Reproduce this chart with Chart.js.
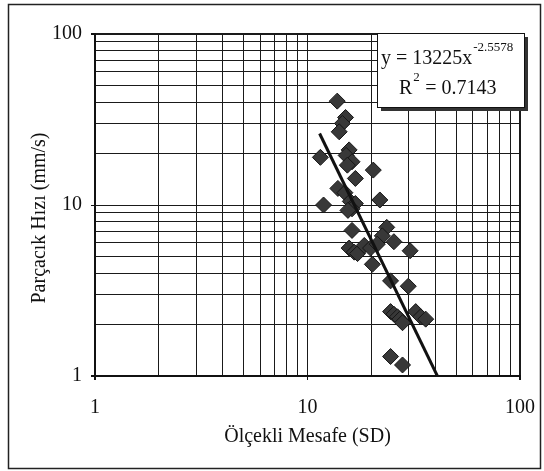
<!DOCTYPE html>
<html>
<head>
  <title>Parçacık Hızı - Ölçekli Mesafe</title>
  <style>
    body { margin: 0; background: #fff; }
    canvas { display: block; }
  </style>
  <script src="https://cdn.jsdelivr.net/npm/chart.js"></script>
</head>
<body>
  <canvas id="chart" width="544" height="471"></canvas>

  <script>
    // ölçülen değerler
    const mesafe = [13.8, 15.1, 14.6, 14.1, 11.5, 15.7, 15.2, 16.2, 15.4, 20.4,
                    16.8, 13.9, 15.0, 11.9, 15.9, 16.8, 16.2, 15.5, 21.9, 16.2,
                    23.6, 22.5, 25.5, 30.4, 15.7, 16.6, 17.2, 18.5, 19.8, 21.3,
                    20.2, 24.6, 29.8, 24.6, 25.5, 26.5, 27.2, 28.0, 32.3, 34.1,
                    36.0, 24.6, 28.0];
    const hiz = [40.5, 32.5, 30.0, 26.8, 19.0, 21.0, 19.5, 17.9, 17.1, 16.0,
                 14.3, 12.5, 11.8, 10.0, 10.5, 10.2, 9.5, 9.3, 10.7, 7.1,
                 7.4, 6.6, 6.1, 5.4, 5.6, 5.3, 5.2, 5.8, 5.6, 5.9,
                 4.5, 3.6, 3.35, 2.38, 2.3, 2.22, 2.15, 2.05, 2.38, 2.22,
                 2.15, 1.30, 1.16];

    // eğilim çizgisi: y = a * x^b
    const trendA = 13225;
    const trendB = -2.5578;
    const trendX = [11.4, 40.9];
    const r2 = 0.7143;

    const xTicks = [1, 2, 3, 4, 5, 6, 7, 8, 9, 10, 20, 30, 40, 50, 60, 70, 80, 90, 100];
    const yTicks = [1, 2, 3, 4, 5, 6, 7, 8, 9, 10, 20, 30, 40, 50, 60, 70, 80, 90, 100];
    const majorTicks = [1, 10, 100];

    const serif = "'Liberation Serif', 'Times New Roman', serif";

    const noktalar = mesafe.map((x, i) => ({ x: x, y: hiz[i] }));
    const trend = trendX.map(x => ({ x: x, y: trendA * Math.pow(x, trendB) }));

    function gridWidth(ctx) {
      const v = ctx.tick && ctx.tick.value;
      return (v === 1 || v === 100) ? 2 : 1;
    }
    function tickColor(ctx) {
      return majorTicks.includes(ctx.tick && ctx.tick.value) ? '#111' : 'rgba(0,0,0,0)';
    }
    function tickLabel(v) {
      return majorTicks.includes(v) ? String(v) : '';
    }

    // dış çerçeve, y ekseni başlığı ve denklem kutusu
    const ekstra = {
      id: 'ekstra',
      afterDraw(chart) {
        const ctx = chart.ctx;
        const area = chart.chartArea;
        ctx.save();
        ctx.strokeStyle = '#222';
        ctx.lineWidth = 1.5;
        ctx.strokeRect(8.5, 4.5, 532, 464);

        // y ekseni başlığı
        ctx.fillStyle = '#111';
        ctx.font = '20px ' + serif;
        ctx.textAlign = 'center';
        ctx.textBaseline = 'middle';
        ctx.translate(40, 218);
        ctx.rotate(-Math.PI / 2);
        ctx.fillText('Parçacık Hızı (mm/s)', 0, 0);
        ctx.restore();

        // denklem kutusu
        ctx.save();
        const bw = 147, bh = 74;
        const bx = Math.round(area.right) + 4 - bw, by = 33;
        ctx.fillStyle = '#333';
        ctx.fillRect(bx + 4, by + 4, bw, bh);
        ctx.fillStyle = '#fff';
        ctx.fillRect(bx, by, bw, bh);
        ctx.strokeStyle = '#111';
        ctx.lineWidth = 1;
        ctx.strokeRect(bx + 0.5, by + 0.5, bw, bh);

        ctx.fillStyle = '#111';
        ctx.textBaseline = 'alphabetic';
        ctx.textAlign = 'left';
        ctx.font = '20px ' + serif;
        const satir1 = 'y = ' + trendA + 'x';
        ctx.fillText(satir1, bx + 4, 64);
        const w1 = ctx.measureText(satir1).width;
        ctx.font = '13px ' + serif;
        ctx.fillText(String(trendB), bx + 4 + w1 + 1, 51);

        const rx = bx + 22;
        ctx.font = '20px ' + serif;
        ctx.fillText('R', rx, 94);
        const wR = ctx.measureText('R').width;
        ctx.font = '13px ' + serif;
        ctx.fillText('2', rx + wR + 1, 81);
        ctx.font = '20px ' + serif;
        ctx.fillText(' = ' + r2, rx + wR + 8, 94);
        ctx.restore();
      }
    };

    new Chart(document.getElementById('chart'), {
      type: 'scatter',
      data: {
        datasets: [
          {
            label: 'Ölçüm',
            data: noktalar,
            pointStyle: 'rectRot',
            pointRadius: 8,
            backgroundColor: '#383838',
            borderColor: '#161616',
            borderWidth: 1,
            order: 2
          },
          {
            label: 'Eğilim',
            type: 'line',
            data: trend,
            borderColor: '#111',
            borderWidth: 3,
            pointRadius: 0,
            fill: false,
            order: 1
          }
        ]
      },
      options: {
        responsive: false,
        animation: false,
        layout: { padding: { top: 34, right: 24, left: 20, bottom: 22 } },
        plugins: {
          legend: { display: false },
          tooltip: { enabled: false }
        },
        scales: {
          x: {
            type: 'logarithmic',
            min: 1,
            max: 100,
            afterBuildTicks: s => { s.ticks = xTicks.map(v => ({ value: v })); },
            afterFit: s => { s.height = 73; s.paddingLeft = 0; s.paddingRight = 0; },
            grid: { color: '#1a1a1a', lineWidth: gridWidth, drawTicks: true, tickLength: 4, tickColor: tickColor },
            border: { display: true, color: '#111', width: 2 },
            ticks: {
              autoSkip: false,
              maxRotation: 0,
              padding: 16,
              color: '#111',
              font: { family: serif, size: 20 },
              callback: tickLabel
            },
            title: {
              display: true,
              text: 'Ölçekli Mesafe (SD)',
              color: '#111',
              font: { family: serif, size: 20 },
              padding: 0
            }
          },
          y: {
            type: 'logarithmic',
            min: 1,
            max: 100,
            afterBuildTicks: s => { s.ticks = yTicks.map(v => ({ value: v })); },
            afterFit: s => { s.width = 75; s.paddingTop = 0; s.paddingBottom = 0; },
            grid: { color: '#1a1a1a', lineWidth: gridWidth, drawTicks: true, tickLength: 4, tickColor: tickColor },
            border: { display: true, color: '#111', width: 2 },
            ticks: {
              autoSkip: false,
              padding: 9,
              color: '#111',
              font: { family: serif, size: 20 },
              callback: tickLabel
            }
          }
        }
      },
      plugins: [ekstra]
    });
  </script>
</body>
</html>
